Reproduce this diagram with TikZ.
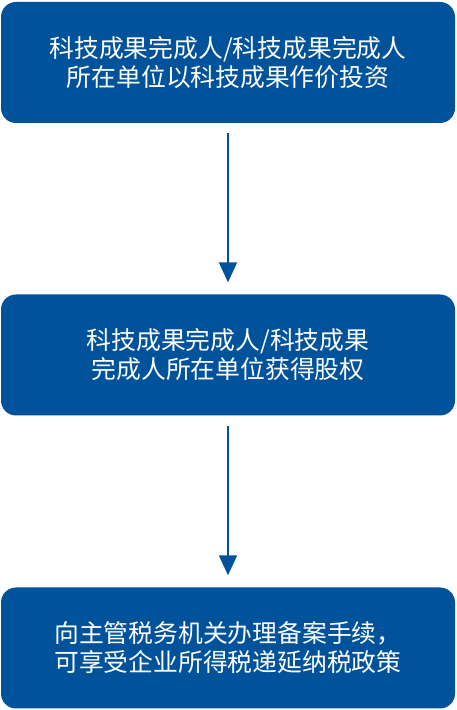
\documentclass[tikz,border=0pt]{standalone}
\usepackage{fontspec}
\usepackage{xcolor}
\usepackage{tikz}
\usetikzlibrary{arrows.meta, positioning}
\newfontfamily\cjk{Noto Sans CJK SC}
\definecolor{myblue}{RGB}{0,82,155}
\tikzset{
  stepbox/.style={rectangle, draw=none, fill=myblue, text=white,
    minimum width=454pt, minimum height=121pt, align=center,
    font=\cjk\fontsize{24.8}{29}\selectfont, rounded corners=15pt, inner sep=0pt},
  arrow/.style={-{Triangle[width=18pt, length=20pt]}, line width=2pt, color=myblue,
    shorten <=10pt, shorten >=12pt}
}
\begin{document}
\begin{tikzpicture}[x=1pt, y=1pt]
  \useasboundingbox (0,0) rectangle (456,710);
  % Steps
  \node[stepbox] (invest) at (228, 647.5) {科技成果完成人/科技成果完成人\\所在单位以科技成果作价投资};
  \node[stepbox] (equity) at (228, 355) {科技成果完成人/科技成果\\完成人所在单位获得股权};
  \node[stepbox] (record) at (228, 62) {向主管税务机关办理备案手续，\\可享受企业所得税递延纳税政策};

  % Paths
  \draw[arrow] (invest) -- (equity);
  \draw[arrow] (equity) -- (record);
\end{tikzpicture}
\end{document}
